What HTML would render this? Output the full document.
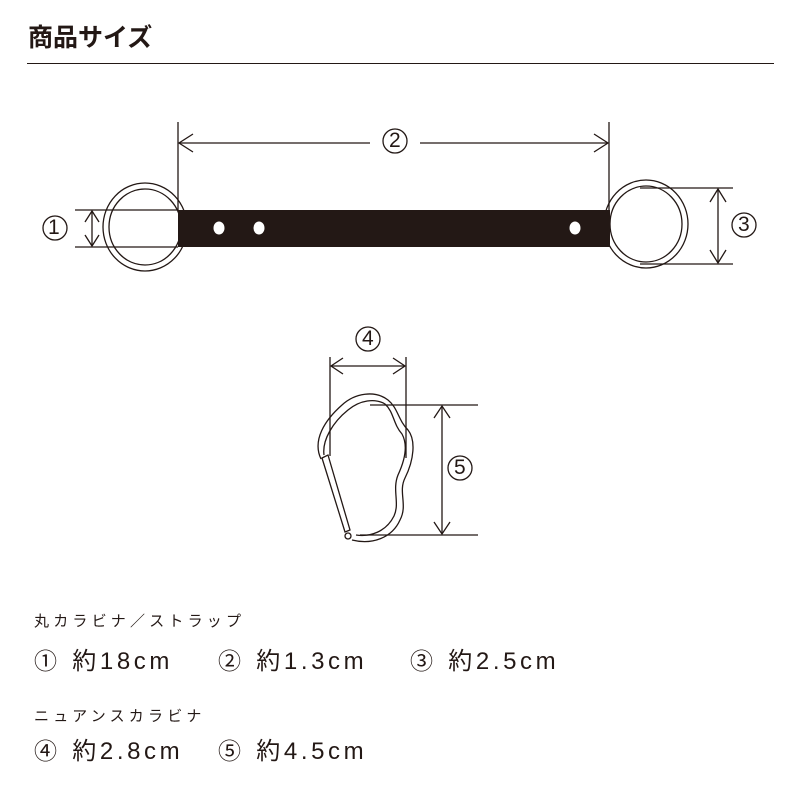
<!DOCTYPE html>
<html><head><meta charset="utf-8"><style>
body{margin:0;background:#fff;}
#c{position:relative;width:800px;height:800px;overflow:hidden;font-family:"Liberation Sans","Noto Sans CJK JP",sans-serif;color:#231815;}
.t{position:absolute;white-space:nowrap;line-height:1;}
.s{font-size:15px;letter-spacing:4.2px;}
.b{font-size:24px;letter-spacing:3.6px;}
.b span{font-size:23px;letter-spacing:5px;}
</style></head><body><div id="c">
<div class="t" style="left:28px;top:26px;font-size:25px;font-weight:bold;">商品サイズ</div>
<div style="position:absolute;left:27px;top:63px;width:747px;height:1px;background:#231815"></div>
<svg width="800" height="800" style="position:absolute;left:0;top:0" fill="none" stroke="#231815" stroke-width="1.3">
<ellipse cx="145" cy="227" rx="42" ry="44"/>
<ellipse cx="145" cy="227" rx="36" ry="38"/>
<ellipse cx="646" cy="224" rx="42" ry="44"/>
<ellipse cx="646" cy="224" rx="36" ry="38"/>
<rect x="178" y="210" width="432" height="37" fill="#231815" stroke="none"/>
<ellipse cx="219" cy="228" rx="5.5" ry="6.5" fill="#fff" stroke="none"/>
<ellipse cx="259" cy="228" rx="5.5" ry="6.5" fill="#fff" stroke="none"/>
<ellipse cx="575" cy="228" rx="5.5" ry="6.5" fill="#fff" stroke="none"/>
<line x1="178" y1="122" x2="178" y2="210"/>
<line x1="609" y1="122" x2="609" y2="210"/>
<line x1="179" y1="143" x2="370" y2="143"/>
<line x1="420" y1="143" x2="608" y2="143"/>
<polyline points="193,134 179,143 193,152"/>
<polyline points="594,134 608,143 594,152"/>
<circle cx="395" cy="141" r="12"/>
<line x1="75" y1="210" x2="178" y2="210"/>
<line x1="75" y1="247" x2="178" y2="247"/>
<line x1="92" y1="211" x2="92" y2="246"/>
<polyline points="85,222 92,211 99,222"/>
<polyline points="85,235 92,246 99,235"/>
<circle cx="55" cy="228" r="12"/>
<line x1="640" y1="188" x2="733" y2="188"/>
<line x1="640" y1="264" x2="733" y2="264"/>
<line x1="718" y1="189" x2="718" y2="263"/>
<polyline points="710,202 718,189 726,202"/>
<polyline points="710,250 718,263 726,250"/>
<circle cx="744" cy="225" r="12"/>
<line x1="330" y1="357" x2="330" y2="456"/>
<line x1="406" y1="357" x2="406" y2="458"/>
<line x1="331" y1="366" x2="405" y2="366"/>
<polyline points="343,358 331,366 343,374"/>
<polyline points="393,358 405,366 393,374"/>
<circle cx="368" cy="339" r="12"/>
<line x1="370" y1="405" x2="478" y2="405"/>
<line x1="360" y1="535" x2="478" y2="535"/>
<line x1="442" y1="406" x2="442" y2="534"/>
<polyline points="434,418 442,406 450,418"/>
<polyline points="434,522 442,534 450,522"/>
<circle cx="460" cy="468" r="12"/>
<path d="M321,459 C312,440 325,420 342,405 C355,393 375,390 388,400 C398,408 398,420 408,430 C416,440 414,460 405,478 C398,492 408,505 400,520 C392,538 372,545 352,540"/>
<path d="M324,455 C322,440 333,422 348,410 C360,400 375,398 385,404 C394,412 393,424 402,434 C408,445 405,460 398,475 C392,490 400,503 394,516 C386,532 370,537 356,535"/>
<path d="M322,458 L345,532 L350,530 L328,455 Z"/>
<circle cx="348" cy="536" r="3"/>
</svg>
<div class="t" style="left:48px;top:217px;font-size:21px;">1</div>
<div class="t" style="left:389px;top:130px;font-size:21px;">2</div>
<div class="t" style="left:738px;top:214px;font-size:21px;">3</div>
<div class="t" style="left:362px;top:328px;font-size:21px;">4</div>
<div class="t" style="left:454px;top:457px;font-size:21px;">5</div>
<div class="t s" style="left:34px;top:614px;">丸カラビナ／ストラップ</div>
<div class="t b" style="left:34px;top:650px;"><span>①</span> 約18cm</div>
<div class="t b" style="left:218px;top:650px;"><span>②</span> 約1.3cm</div>
<div class="t b" style="left:410px;top:650px;"><span>③</span> 約2.5cm</div>
<div class="t s" style="left:34px;top:709px;">ニュアンスカラビナ</div>
<div class="t b" style="left:34px;top:740px;"><span>④</span> 約2.8cm</div>
<div class="t b" style="left:218px;top:740px;"><span>⑤</span> 約4.5cm</div>
</div></body></html>
